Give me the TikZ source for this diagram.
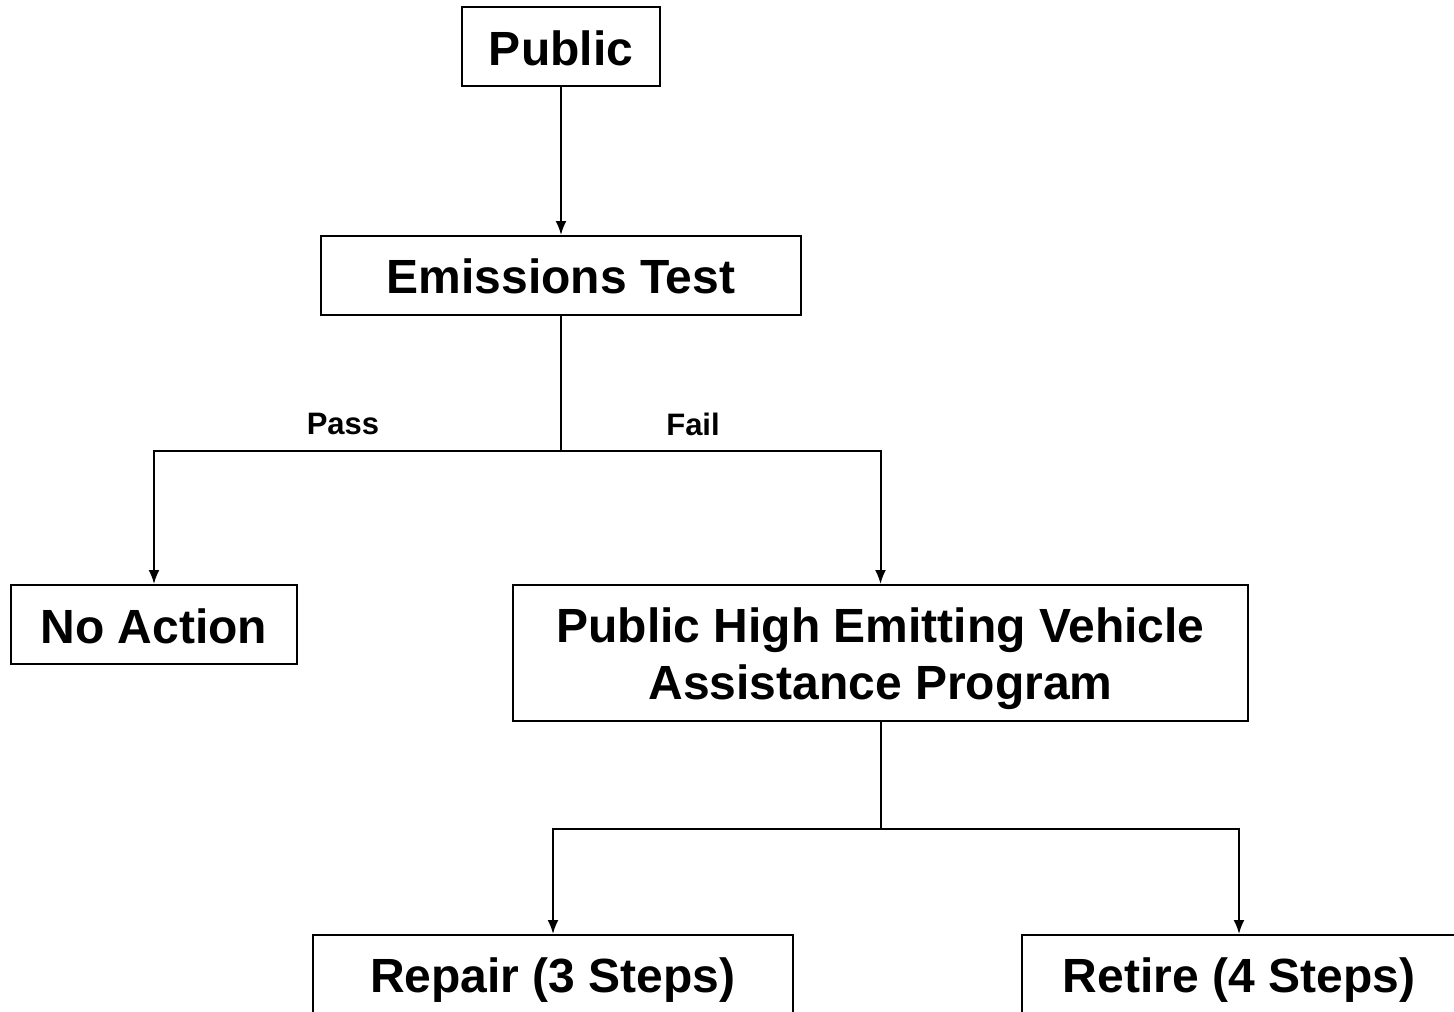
\documentclass[tikz,border=0pt]{standalone}
\usepackage{fontspec}
\setmainfont{Liberation Sans}
\usetikzlibrary{positioning,arrows.meta}

\newcommand{\lowtext}[2]{\raisebox{-#1}[\height][\depth]{#2}}

\begin{document}
\begin{tikzpicture}[x=0.5pt,y=-0.5pt,
    boxnode/.style={rectangle, draw=black, line width=1pt, inner sep=0pt, align=center, font=\fontsize{24}{28.5}\selectfont\bfseries},
    tagnode/.style={inner sep=0pt, font=\fontsize{15.5}{18}\selectfont\bfseries},
    arrow/.style={-{Latex[length=7pt,width=5.5pt]}, line width=1pt},
    line/.style={line width=1pt}]
            \clip (0,0) rectangle (1454,1011);
            %Nodes
            \node[boxnode, minimum width=99pt, minimum height=39.5pt](public) at (561,46.5){\lowtext{1pt}{Public}};
            \node[boxnode, minimum width=240pt, minimum height=39.5pt](emissions) at (561,275.5){\lowtext{0.5pt}{Emissions Test}};
            \node[boxnode, minimum width=143pt, minimum height=39.5pt](noaction) at (154,624.5){\lowtext{1pt}{No Action}};
            \node[boxnode, minimum width=367.5pt, minimum height=68pt](phevap) at (880.5,653){\lowtext{3pt}{Public High Emitting Vehicle}\\\lowtext{3pt}{Assistance Program}};
            \node[boxnode, minimum width=240pt, minimum height=41pt](repair) at (553,976){\lowtext{2pt}{Repair (3 Steps)}};
            \node[boxnode, minimum width=217pt, minimum height=41pt](retire) at (1239,976){\lowtext{2pt}{Retire (4 Steps)}};
            \node[tagnode](pass) at (343,424){Pass};
            \node[tagnode](fail) at (693,424){Fail};

            %Lines
            \draw[arrow] (public) -- (emissions);
            \draw[line] (emissions.south) -- ++(0,135) coordinate (testsplit);
            \draw[arrow] (testsplit) -| (noaction.north);
            \draw[arrow] (testsplit) -| (phevap.north);
            \draw[line] (phevap.south) -- ++(0,107) coordinate (programsplit);
            \draw[arrow] (programsplit) -| (repair.north);
            \draw[arrow] (programsplit) -| (retire.north);
        \end{tikzpicture}
\end{document}
